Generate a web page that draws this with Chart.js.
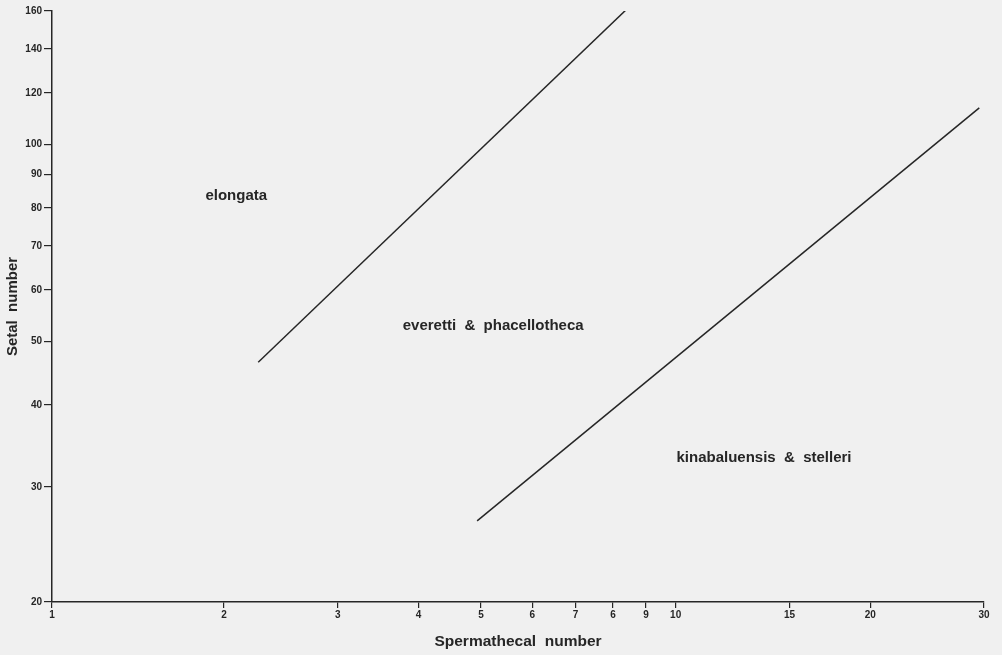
<!DOCTYPE html>
<html>
<head>
<meta charset="utf-8">
<script src="https://cdn.jsdelivr.net/npm/chart.js@4/dist/chart.umd.min.js"></script>
<style>
  html, body { margin: 0; padding: 0; background: #f0f0f0; }
  canvas { display: block; }
</style>
</head>
<body>
<canvas id="boundaryChart" width="1002" height="655"></canvas>
<script>
// Boundary lines (spermathecal number vs setal number, log-log)
const upperLine = [{ x: 2.26, y: 46.5 }, { x: 8.4, y: 161 }];
const lowerLine = [{ x: 4.93, y: 26.6 }, { x: 29.5, y: 113.8 }];

// Region names and where they sit in data space
const regionNames = ['elongata', 'everetti  &  phacellotheca', 'kinabaluensis  &  stelleri'];
const regionX = [2.09, 5.22, 13.7];
const regionY = [83.4, 52.8, 33.2];

// Axis ticks (the x axis starts with a break drawn as "1")
const xMin = 1.084;
const xTickValues = [xMin, 2, 3, 4, 5, 6, 7, 8, 9, 10, 15, 20, 30];
const xTickLabels = ['1', '2', '3', '4', '5', '6', '7', '6', '9', '10', '15', '20', '30'];
const yTickValues = [20, 30, 40, 50, 60, 70, 80, 90, 100, 120, 140, 160];

const ink = '#262626';

const regionLabels = {
  id: 'regionLabels',
  afterDatasetsDraw(chart) {
    const { ctx, scales } = chart;
    ctx.save();
    ctx.fillStyle = ink;
    ctx.font = 'bold 15px "Liberation Sans", Arial, sans-serif';
    ctx.textAlign = 'center';
    ctx.textBaseline = 'middle';
    regionNames.forEach((name, i) => {
      ctx.fillText(name, scales.x.getPixelForValue(regionX[i]), scales.y.getPixelForValue(regionY[i]));
    });
    ctx.restore();
  }
};

const ctx = document.getElementById('boundaryChart').getContext('2d');
new Chart(ctx, {
  type: 'scatter',
  data: {
    datasets: [
      { data: upperLine, showLine: true, borderColor: ink, borderWidth: 1.5, pointRadius: 0 },
      { data: lowerLine, showLine: true, borderColor: ink, borderWidth: 1.5, pointRadius: 0 }
    ]
  },
  options: {
    responsive: false,
    animation: false,
    devicePixelRatio: 1,
    layout: { padding: { top: 11, right: 18, left: 0, bottom: 0 } },
    plugins: {
      legend: { display: false },
      tooltip: { enabled: false }
    },
    scales: {
      x: {
        type: 'logarithmic',
        min: xMin,
        max: 30,
        border: { color: ink, width: 1.5 },
        grid: { drawOnChartArea: false, color: ink, tickLength: 6, lineWidth: 1.2 },
        afterBuildTicks: scale => { scale.ticks = xTickValues.map(v => ({ value: v })); },
        afterFit: scale => { scale.height = 53; },
        ticks: {
          autoSkip: false,
          maxRotation: 0,
          padding: 1,
          color: ink,
          font: { family: '"Liberation Sans", Arial, sans-serif', size: 10, weight: 'bold' },
          callback: (value, index) => xTickLabels[index]
        },
        title: {
          display: true,
          text: 'Spermathecal  number',
          color: ink,
          font: { family: '"Liberation Sans", Arial, sans-serif', size: 15.5, weight: 'bold' }
        }
      },
      y: {
        type: 'logarithmic',
        min: 20,
        max: 160,
        border: { color: ink, width: 1.5 },
        grid: { drawOnChartArea: false, color: ink, tickLength: 8, lineWidth: 1.2 },
        afterBuildTicks: scale => { scale.ticks = yTickValues.map(v => ({ value: v })); },
        afterFit: scale => { scale.width = 52; },
        ticks: {
          autoSkip: false,
          padding: 2,
          color: ink,
          font: { family: '"Liberation Sans", Arial, sans-serif', size: 10, weight: 'bold' },
          callback: value => String(value)
        },
        title: {
          display: true,
          text: 'Setal  number',
          color: ink,
          font: { family: '"Liberation Sans", Arial, sans-serif', size: 15, weight: 'bold' }
        }
      }
    }
  },
  plugins: [regionLabels]
});
</script>
</body>
</html>
